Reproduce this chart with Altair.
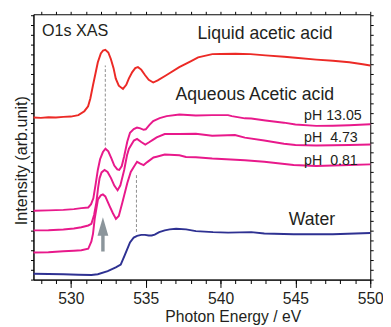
import altair as alt
import pandas as pd

# ---- data (intensity in arbitrary units) ----
liquid_e = [527.5, 528.0, 528.5, 529.0, 529.5, 530.0, 530.5, 530.9, 531.15, 531.3, 531.47, 531.65,
            531.8, 532.0, 532.15, 532.3, 532.5, 532.67, 532.85, 533.0, 533.2, 533.48, 533.7, 533.87,
            534.1, 534.3, 534.48, 534.7, 534.96, 535.2, 535.5, 535.8, 536.37, 537.24, 538.0, 538.5,
            539.45, 540.0, 541.0, 542.0, 543.0, 544.25, 545.0, 546.4, 547.5, 548.6, 549.5, 550.0]
liquid_i = [165.5, 165.2, 165.8, 165.5, 166.2, 166.5, 168, 172, 177, 185, 198, 211,
            222, 231, 234, 234.7, 232, 225.3, 216, 205.3, 198, 194.7, 199, 205.3,
            212, 216, 217, 214.5, 208.7, 204, 201.3, 203.5, 208.7, 217, 223, 227,
            230.3, 230.5, 230.7, 230.3, 229, 227.7, 226.5, 224.7, 223.5, 222, 220, 218.7]

ph13_e = [527.5, 528.5, 529.5, 530.2, 530.7, 531.16, 531.35, 531.5, 531.65, 531.8, 531.95, 532.14,
          532.31, 532.5, 532.7, 532.9, 533.1, 533.23, 533.4, 533.56, 533.77, 533.95, 534.2, 534.42,
          534.64, 534.86, 535.0, 535.25, 535.5, 535.93, 536.4, 537.25, 538.35, 539.44, 540.5, 540.75,
          541.62, 542.05, 543.0, 544.23, 545.0, 546.39, 547.5, 548.59, 550.0]
ph13_i = [70.3, 70.7, 71.2, 72, 73, 73.7, 77, 83, 97, 112, 123, 130.3,
          133.7, 131, 124, 116.5, 112.5, 112, 116, 126, 141, 150, 153.7, 155.3,
          154.5, 153, 153.5, 158, 162, 165, 167, 168.7, 167.7, 168, 168, 167,
          164.7, 164.5, 162.5, 160.3, 158.5, 157, 157.2, 157.7, 158.7]

ph4_e = [527.5, 528.5, 529.5, 530.2, 530.7, 531.16, 531.37, 531.55, 531.7, 531.82, 531.92, 532.05,
         532.25, 532.45, 532.68, 532.9, 533.12, 533.3, 533.56, 533.75, 533.88, 534.21, 534.42, 534.7,
         534.97, 535.2, 535.5, 535.73, 536.27, 537.25, 538.35, 539.44, 540.96, 541.62, 542.92, 544.23,
         545.0, 546.39, 547.5, 548.6, 550.0]
ph4_i = [50.3, 50.5, 51.2, 52.2, 53.5, 55.3, 57, 66, 78.7, 94, 103.7, 109.5,
         112, 110, 103.7, 96, 91.3, 96, 112, 127, 133.7, 142, 143.7, 140.5,
         138, 140, 143, 145.3, 148.7, 148.7, 149, 147, 147.7, 145, 142, 138.7,
         137.5, 137, 137.2, 137.5, 138]

ph0_e = [527.5, 528.5, 529.5, 530.2, 530.7, 531.16, 531.37, 531.48, 531.59, 531.81, 532.0, 532.14,
         532.3, 532.58, 532.8, 533.01, 533.2, 533.44, 533.77, 534.0, 534.21, 534.42, 534.64, 534.86,
         535.1, 535.52, 535.73, 536.27, 537.25, 537.69, 538.35, 539.44, 541.62, 542.92, 544.88, 546.39,
         547.5, 548.6, 550.0]
ph0_i = [27.7, 28, 29, 29.5, 30, 31.5, 39, 47, 62, 82, 86, 87,
         85, 75.3, 68, 62, 65, 78.7, 98.7, 110, 115.3, 120.3, 118.5, 117,
         120, 124.7, 125.5, 127.7, 127, 125.3, 125, 123.7, 122, 120.3, 117, 116,
         116.5, 117, 117.7]

water_e = [527.5, 528.5, 529.5, 530.5, 531.37, 531.8, 532.46, 533.0, 533.33, 533.6, 533.95, 534.2,
           534.42, 534.7, 534.95, 535.2, 535.4, 535.6, 535.9, 536.27, 536.6, 537.03, 537.7, 538.35,
           539.5, 540.5, 542.05, 542.92, 544.88, 547.5, 550.0]
water_i = [6, 5.7, 5.5, 5, 4.7, 5.5, 8.7, 12.5, 15.3, 25, 38, 43,
           44.7, 45.7, 45.7, 45, 45, 46, 48.5, 50.3, 51.3, 52, 51.3, 49.5,
           48.5, 48, 48.5, 47, 46.3, 46.3, 47.7]

series_names = ["Liquid acetic acid", "pH 13.05", "pH 4.73", "pH 0.81", "Water"]
series_colors = ["#ec2a26", "#e8198b", "#e8198b", "#e8198b", "#2e3192"]

# dashed guide lines (energy, from, to)
guide_e = [532.3, 534.38]
guide_lo = [137, 48.7]
guide_hi = [218.7, 107]

# arrow
arrow_e = [532.14]
arrow_tail = [28.7]
arrow_head_base = [46]
arrow_head_mid = [54.3]

major_ticks = [530, 535, 540, 545, 550]
minor_ticks = list(range(528, 551))
y_ticks = list(range(0, 272, 10))

# ---- tables ----
rows = []
for name, es, ys in zip(series_names,
                        [liquid_e, ph13_e, ph4_e, ph0_e, water_e],
                        [liquid_i, ph13_i, ph4_i, ph0_i, water_i]):
    for e, y in zip(es, ys):
        rows.append({"series": name, "energy": e, "intensity": y})
df = pd.DataFrame(rows)

guides = pd.DataFrame({"energy": guide_e, "lo": guide_lo, "hi": guide_hi})
arrow = pd.DataFrame({"energy": arrow_e, "tail": arrow_tail, "base": arrow_head_base, "mid": arrow_head_mid})

labels_big = pd.DataFrame({
    "text": ["Liquid acetic acid", "Aqueous Acetic acid", "Water"],
    "energy": [538.46, 536.99, 544.56],
    "intensity": [246, 183, 56],
})
labels_title = pd.DataFrame({"text": ["O1s XAS"], "energy": [528.07], "intensity": [249.3]})
labels_ph = pd.DataFrame({
    "text": ["pH 13.05", "pH\u00a0\u00a04.73", "pH\u00a0\u00a00.81"],
    "energy": [545.58, 545.58, 545.58],
    "intensity": [162.7, 141, 116.7],
})

FONT = "Liberation Sans"
TXT = "#231f20"
xscale = alt.Scale(domain=[527.5, 550], nice=False, zero=False)
yscale = alt.Scale(domain=[0, 271], nice=False, zero=False)

lines = alt.Chart(df).mark_line(strokeWidth=2).encode(
    x=alt.X("energy:Q", scale=xscale,
            axis=alt.Axis(orient="bottom", values=major_ticks, tickSize=8, labelFontSize=16,
                          labelBaseline="alphabetic", labelPadding=16.5, labelFont=FONT,
                          labelFlush=False, labelOverlap=False,
                          title="Photon Energy / eV", titleX=203.5, titleY=42.5,
                          titleBaseline="alphabetic", titleFontSize=16, titleFontWeight="normal",
                          titleFont=FONT, grid=False)),
    y=alt.Y("intensity:Q", scale=yscale,
            axis=alt.Axis(orient="left", values=y_ticks, tickSize=3, labels=False,
                          title="Intensity (arb.unit)", titleX=-7.3, titleY=149, titleAngle=270,
                          titleBaseline="alphabetic", titleFontSize=16.5, titleFontWeight="normal",
                          titleFont=FONT, grid=False)),
    color=alt.Color("series:N", scale=alt.Scale(domain=series_names, range=series_colors), legend=None),
    detail="series:N",
)

rules = alt.Chart(guides).mark_rule(strokeDash=[3, 2], color="#8c8c8c", strokeWidth=1).encode(
    x=alt.X("energy:Q", scale=xscale,
            axis=alt.Axis(orient="bottom", values=minor_ticks, tickSize=4, labels=False,
                          domain=False, title="", grid=False)),
    y=alt.Y("lo:Q", scale=yscale,
            axis=alt.Axis(orient="right", values=y_ticks, tickSize=3, labels=False,
                          domain=False, title="", grid=False)),
    y2="hi:Q",
)

shaft = alt.Chart(arrow).mark_rule(color="#8b959b", strokeWidth=3.5).encode(
    x=alt.X("energy:Q", scale=xscale,
            axis=alt.Axis(orient="top", values=minor_ticks, tickSize=3, labels=False,
                          domain=False, title="", grid=False)),
    y=alt.Y("tail:Q", scale=yscale, axis=None),
    y2="base:Q",
)

head = alt.Chart(arrow).mark_point(shape="M0,-1L0.58,1L-0.58,1Z", size=361, filled=True,
                                   color="#8b959b", opacity=1).encode(
    x=alt.X("energy:Q", scale=xscale, axis=None),
    y=alt.Y("mid:Q", scale=yscale, axis=None),
)

def text_layer(data, size):
    return alt.Chart(data).mark_text(align="left", baseline="alphabetic", font=FONT,
                                     fontSize=size, color=TXT).encode(
        x=alt.X("energy:Q", scale=xscale, axis=None),
        y=alt.Y("intensity:Q", scale=yscale, axis=None),
        text="text:N",
    )

chart = alt.layer(
    rules, lines, shaft, head,
    text_layer(labels_big, 18), text_layer(labels_title, 16.5), text_layer(labels_ph, 14.5),
).resolve_axis(x="independent", y="independent").properties(
    width=344, height=271,
    autosize=alt.AutoSizeParams(type="none"),
    padding={"left": 26, "top": 3, "right": 13, "bottom": 45},
).configure_view(stroke="black", strokeWidth=1).configure_axis(
    domainColor="black", tickColor="black", labelColor=TXT, titleColor=TXT,
)

chart.save("out.html", embed_options={"renderer": "svg", "actions": False})
